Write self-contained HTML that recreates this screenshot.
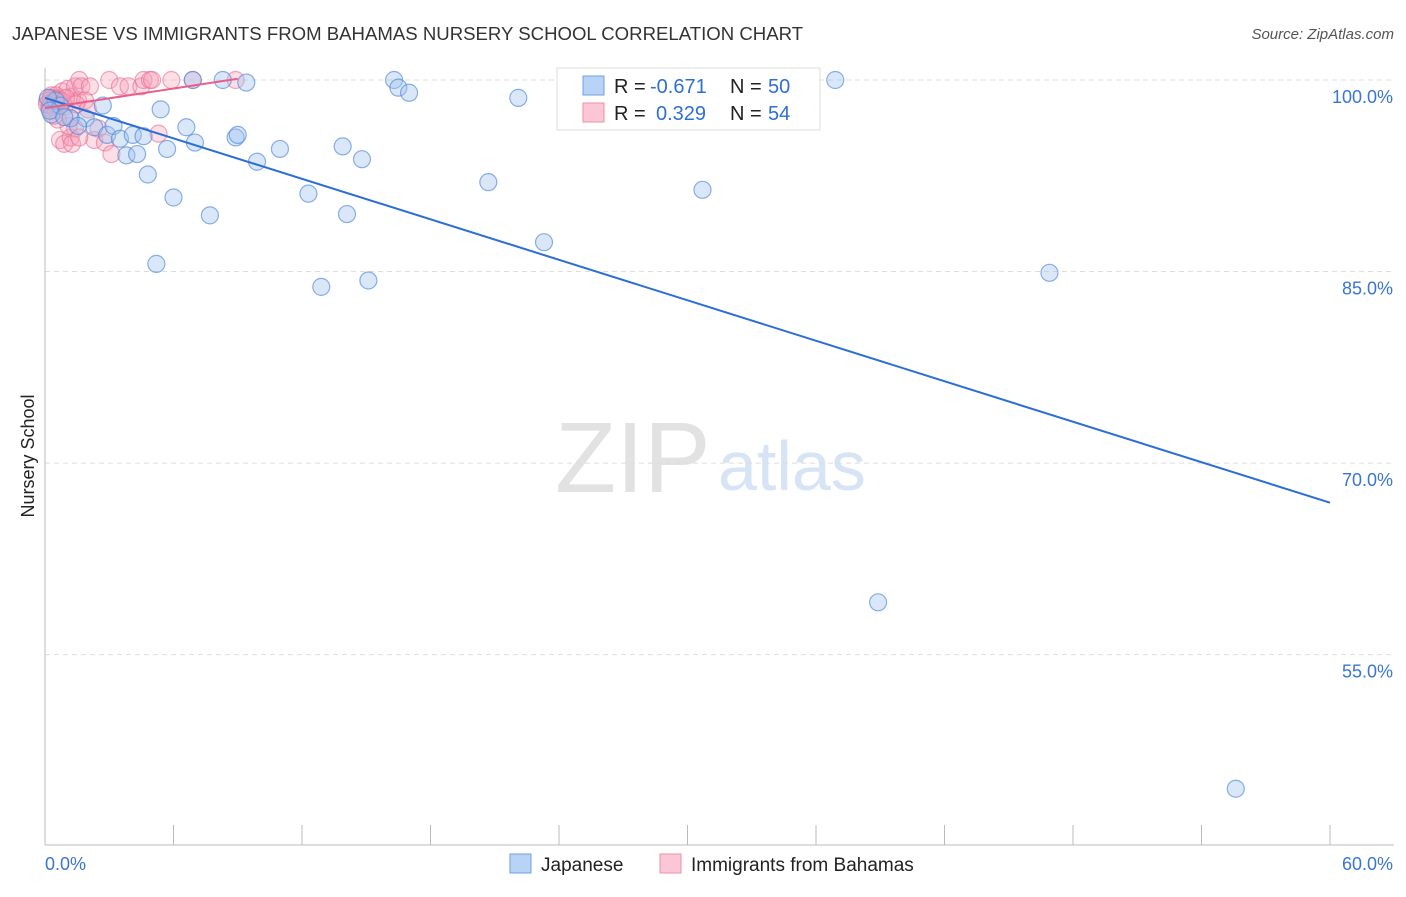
<!DOCTYPE html>
<html><head><meta charset="utf-8"><style>
body{margin:0;background:#fff;font-family:"Liberation Sans",sans-serif}
svg text{font-family:"Liberation Sans",sans-serif}
</style></head><body>
<svg id="c" width="1406" height="892">
<text x="12" y="40" font-size="18.6" fill="#333">JAPANESE VS IMMIGRANTS FROM BAHAMAS NURSERY SCHOOL CORRELATION CHART</text>
<text x="1394" y="39" font-size="15" fill="#555" text-anchor="end" font-style="italic">Source: ZipAtlas.com</text>
<text x="34" y="456" font-size="18" fill="#222" text-anchor="middle" transform="rotate(-90 34 456)">Nursery School</text>
<text x="555" y="492" font-size="100" fill="#e2e2e2" font-family="Liberation Serif">ZIP</text>
<text x="718" y="490" font-size="70" fill="#d6e4f5">atlas</text>
<g id="grid"></g><g id="pts"></g><g id="lines"></g>
<g>
<rect x="557" y="68" width="263" height="62" fill="#fff" stroke="#ddd"/>
<rect x="583" y="76" width="21" height="19" fill="#b8d3f5" stroke="#6f9fe0"/>
<rect x="583" y="103" width="21" height="19" fill="#fbc6d5" stroke="#ec8fab"/>
<text x="614" y="93" font-size="20" fill="#222">R =</text>
<text x="650" y="93" font-size="20" fill="#2e6fd6">-0.671</text>
<text x="730" y="93" font-size="20" fill="#222">N =</text>
<text x="768" y="93" font-size="20" fill="#2e6fd6">50</text>
<text x="614" y="120" font-size="20" fill="#222">R =</text>
<text x="656" y="120" font-size="20" fill="#2e6fd6">0.329</text>
<text x="730" y="120" font-size="20" fill="#222">N =</text>
<text x="768" y="120" font-size="20" fill="#2e6fd6">54</text>
</g>
<g>
<rect x="510" y="854" width="21" height="19" fill="#b8d3f5" stroke="#6f9fe0"/>
<text x="541" y="871" font-size="19" fill="#222">Japanese</text>
<rect x="660" y="854" width="21" height="19" fill="#fbc6d5" stroke="#ec8fab"/>
<text x="691" y="871" font-size="19" fill="#222">Immigrants from Bahamas</text>
</g>
</svg>
<script>
const yTicks=[100,85,70,55];
const xTickLabels=["0.0%","60.0%"];
const blueX=[0.3,0.5,0.7,1.2,1.9,2.3,2.7,2.9,3.2,3.5,3.8,4.1,4.3,4.6,4.8,5.2,5.4,5.7,6.0,6.6,6.9,7.0,7.7,8.3,8.9,9.0,9.4,9.9,10.97,12.3,12.9,13.9,14.1,14.8,15.1,16.3,16.5,17.0,20.7,22.1,23.3,30.7,36.9,38.9,46.9,55.6,0.14,0.23,0.9,1.54];
const blueY=[97.3,98.4,98.0,97.0,97.0,96.3,98.0,95.7,96.4,95.4,94.1,95.7,94.2,95.6,92.6,85.6,97.7,94.6,90.8,96.3,100,95.1,89.4,100,95.5,95.7,99.8,93.6,94.6,91.1,83.8,94.8,89.5,93.8,84.3,100,99.4,99.0,92.0,98.6,87.3,91.4,100,59.1,84.9,44.5,98.6,97.6,97.1,96.4];
const pinkX=[0.1,0.23,0.3,0.5,0.6,0.7,0.8,0.9,1.06,1.2,1.26,1.4,1.54,1.6,1.7,2.1,2.3,2.5,2.8,3.0,3.1,3.5,3.9,4.5,4.6,4.9,5.0,5.3,5.9,6.9,8.9,0.7,0.9,1.2,1.26,1.4,1.1,0.6,1.6,0.5,0.23,0.37,0.5,0.19,0.28,0.56,0.7,0.84,0.09,0.42,0.98,1.87,1.45,2.0];
const pinkY=[98.4,98.0,98.8,97.6,98.6,98.2,99.1,97.9,99.3,97.0,98.7,99.5,98.4,100,99.5,99.5,95.3,96.2,95.1,100,94.2,99.5,99.5,99.5,100,100,100,95.8,100,100,100,95.3,95.0,95.5,95.0,96.2,96.4,96.9,95.5,98.8,98.4,98.3,98.1,97.8,98.6,98.5,98.4,98.3,98.1,97.2,98.6,98.4,98.1,97.7];
const blueTrend=[98.6,66.9];
const pinkTrend=[97.8,100.1];
const pinkTrendEnd=9;
const X=v=>45+v/60*1285, Y=v=>80+(100-v)*12.77;
const ns="http://www.w3.org/2000/svg";
function mk(t,a,p){const e=document.createElementNS(ns,t);for(const k in a)e.setAttribute(k,a[k]);p.appendChild(e);return e;}
const grid=document.getElementById('grid');
yTicks.forEach(t=>{
 const l=mk('line',{x1:45,x2:1394,y1:Y(t),y2:Y(t),stroke:'#ddd','stroke-dasharray':'5,4'},grid);
 
 
 const tx=mk('text',{x:1393,y:Y(t)+23,'font-size':18,fill:'#3a75d4','text-anchor':'end'},grid);
 tx.textContent=t.toFixed(1)+'%';
 
 
});
const ax=mk('line',{x1:45,x2:45,y1:68,y2:845,stroke:'#bbb'},grid);


const bx=mk('line',{x1:45,x2:1394,y1:845,y2:845,stroke:'#bbb'},grid);


for(let i=0;i<=10;i++){const v=i*6;const t=mk('line',{x1:X(v),x2:X(v),y1:825,y2:845,stroke:'#bbb'},grid);
 
 }
xTickLabels.forEach((s,i)=>{const t=mk('text',{x:i?1393:45,y:870,'font-size':18,fill:'#3a75d4','text-anchor':i?'end':'start'},grid);t.textContent=s;
 
 });
const pts=document.getElementById('pts');
pinkX.forEach((x,i)=>{const c=mk('circle',{cx:X(x),cy:Y(pinkY[i]),r:8.5,fill:'rgba(246,160,185,0.35)',stroke:'rgba(232,110,145,0.6)','stroke-width':1.2},pts);
 
 });
blueX.forEach((x,i)=>{const c=mk('circle',{cx:X(x),cy:Y(blueY[i]),r:8.5,fill:'rgba(160,195,240,0.4)',stroke:'rgba(80,135,215,0.65)','stroke-width':1.2},pts);
 
 });
const lines=document.getElementById('lines');
const bl=mk('line',{x1:X(0),y1:Y(blueTrend[0]),x2:X(60),y2:Y(blueTrend[1]),stroke:'#2b6fd6','stroke-width':2},lines);


const pl=mk('line',{x1:X(0),y1:Y(pinkTrend[0]),x2:X(pinkTrendEnd),y2:Y(pinkTrend[1]),stroke:'#e8608a','stroke-width':2},lines);


</script>
</body></html>
